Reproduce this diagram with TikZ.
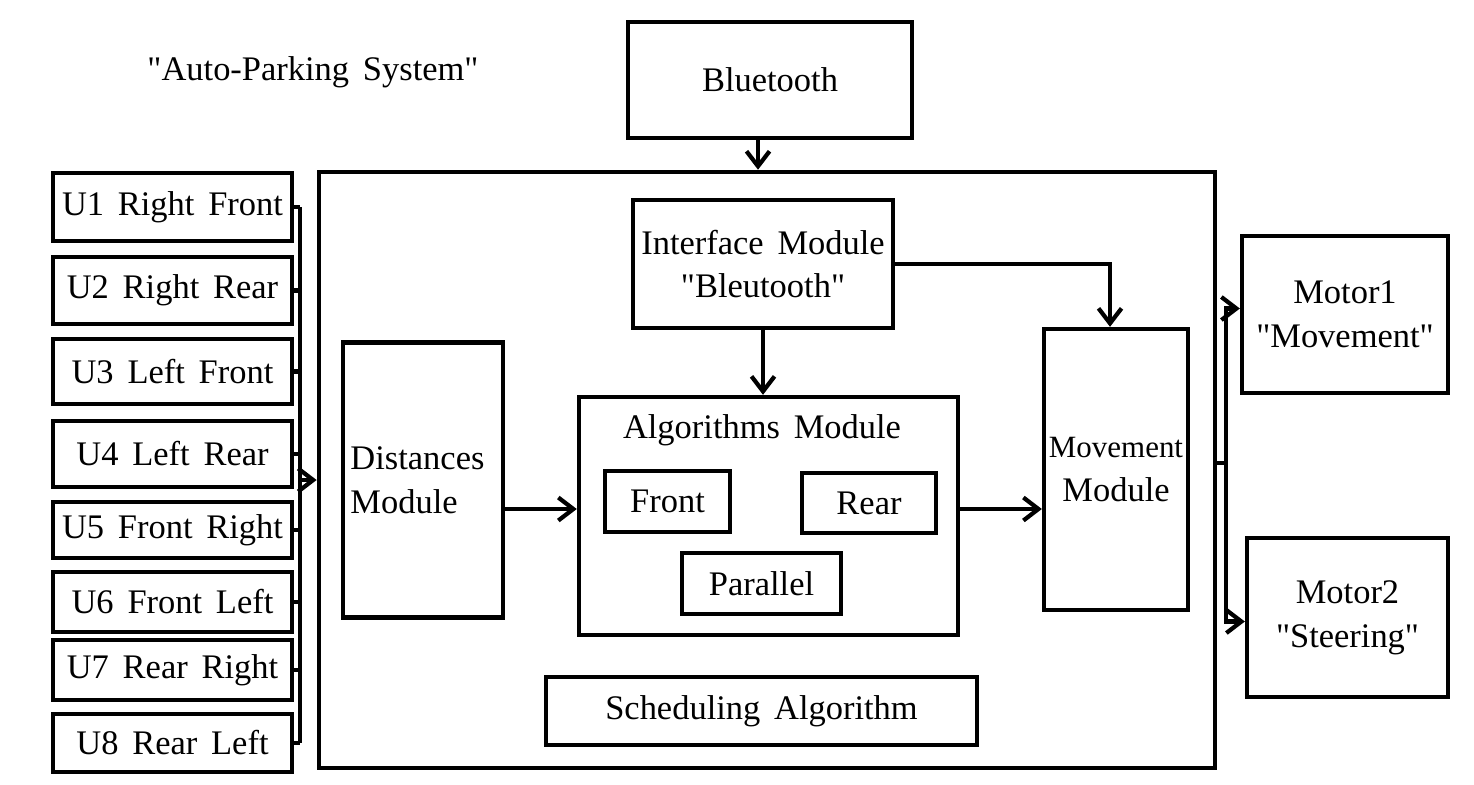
\documentclass[tikz,border=0pt]{standalone}
\usepackage{fontspec}
\setmainfont[WordSpace=1.6]{Liberation Serif}
\usetikzlibrary{arrows.meta}
\newcommand{\qt}[1]{\textquotedbl#1\textquotedbl}

\begin{document}
\begin{tikzpicture}[x=0.01cm,y=-0.01cm,
  box/.style={draw, line width=1.2pt, inner sep=0pt, align=center, font=\fontsize{9.8}{12.5}\selectfont},
  wire/.style={line width=1.2pt},
  arr/.style={line width=1.2pt, -{Straight Barb[length=1.5mm,width=2.3mm]}}
]
\useasboundingbox (0,0) rectangle (1474,784);
\node[font=\fontsize{9.8}{12}\selectfont] (title) at (313,72) {\qt{Auto-Parking System}};
\node[box, minimum width=2.84cm, minimum height=1.16cm] (bt) at (770,80) {Bluetooth};
\node[box, minimum width=8.96cm, minimum height=5.96cm] (sys) at (767,470) {};
% ultrasonic sensors
\coordinate (bus) at (300,480);
\foreach \i/\y/\h/\t in {1/207/0.68/{U1 Right Front}, 2/290.5/0.67/{U2 Right Rear},
  3/371.5/0.65/{U3 Left Front}, 4/454/0.66/{U4 Left Rear}, 5/530/0.56/{U5 Front Right},
  6/602/0.60/{U6 Front Left}, 7/670/0.60/{U7 Rear Right}, 8/743/0.58/{U8 Rear Left}}{
  \node[box, minimum width=2.39cm, minimum height=\h cm] (U\i) at (172.5,\y) {\t};
  \draw[wire] (U\i.east) -- (U\i.east -| bus);
}
\draw[wire] (bus |- U1.east) -- (bus |- U8.east);
\draw[arr] (bus) -- (bus -| sys.west);
\draw[arr] (bt.south -| 758,0) -- (sys.north -| 758,0);
% inside the system
\node[box, minimum width=2.60cm, minimum height=1.28cm] (iface) at (763,264) {Interface Module\\\qt{Bleutooth}};
\node[box, minimum width=1.60cm, minimum height=2.75cm, align=left, text width=1.45cm] (dist) at (423,480) {Distances\\Module};
\node[box, minimum width=3.79cm, minimum height=2.38cm] (algo) at (768.5,516) {};
\node[font=\fontsize{9.8}{12}\selectfont] (algot) at (762,430) {Algorithms Module};
\node[box, minimum width=1.25cm, minimum height=0.61cm] (front) at (667.5,501.5) {Front};
\node[box, minimum width=1.34cm, minimum height=0.60cm] (rear) at (869,503) {Rear};
\node[box, minimum width=1.59cm, minimum height=0.61cm] (par) at (761.5,583.5) {Parallel};
\node[box, minimum width=1.44cm, minimum height=2.81cm] (move) at (1116,469.5) {{\fontsize{8.8}{10}\selectfont Movement}\\Module};
\node[box, minimum width=4.31cm, minimum height=0.68cm] (sched) at (761.5,711) {Scheduling Algorithm};
\coordinate (mid) at (0,509);
\draw[arr] (iface.south) -- (iface.south |- algo.north);
\draw[arr] (iface.east) -| ([xshift=-0.06cm]move.north);
\draw[arr] (dist.east |- mid) -- (algo.west |- mid);
\draw[arr] (algo.east |- mid) -- (move.west |- mid);
% motors
\node[box, minimum width=2.06cm, minimum height=1.57cm] (m1) at (1345,314.5) {Motor1\\ \qt{Movement}};
\node[box, minimum width=2.01cm, minimum height=1.59cm] (m2) at (1347.5,617.5) {Motor2\\ \qt{Steering}};
\coordinate (split) at (1226,463);
\draw[wire] (sys.east |- split) -- (split);
\draw[arr] (split) |- ([yshift=0.06cm]m1.west);
\draw[arr] (split) |- ([yshift=-0.04cm]m2.west);
\end{tikzpicture}
\end{document}
